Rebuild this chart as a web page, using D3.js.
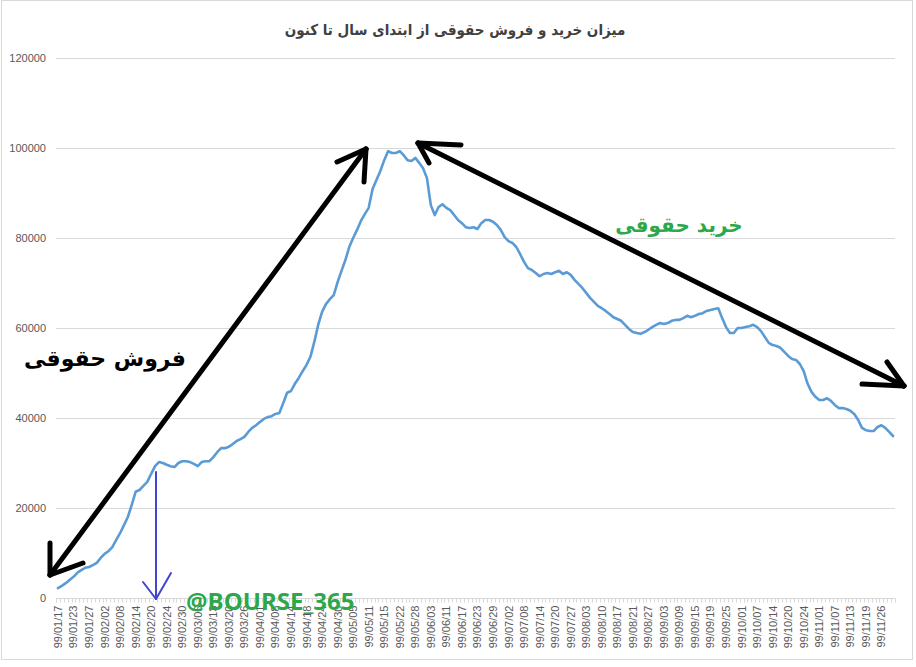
<!DOCTYPE html>
<html><head><meta charset="utf-8">
<script src="https://cdn.jsdelivr.net/npm/d3@7"></script>
<style>body{margin:0;background:#fff}svg{display:block}</style>
</head><body>
<script>
const title = "میزان خرید و فروش حقوقی از ابتدای سال تا کنون";
const tickLabels = ["99/01/17","99/01/23","99/01/27","99/02/02","99/02/08","99/02/14","99/02/20","99/02/24","99/02/30","99/03/06","99/03/13","99/03/20","99/03/26","99/04/01","99/04/08","99/04/14","99/04/18","99/04/24","99/04/30","99/05/05","99/05/11","99/05/15","99/05/22","99/05/28","99/06/03","99/06/11","99/06/17","99/06/23","99/06/29","99/07/02","99/07/08","99/07/14","99/07/20","99/07/27","99/08/03","99/08/10","99/08/17","99/08/21","99/08/27","99/09/03","99/09/09","99/09/15","99/09/19","99/09/25","99/10/01","99/10/07","99/10/14","99/10/20","99/10/24","99/11/01","99/11/07","99/11/13","99/11/19","99/11/26"];
const values = [2200,2700,3300,4000,4700,5600,6200,6700,6900,7300,
7800,8900,9800,10400,11300,12900,14400,16200,18000,20700,
23600,24000,24900,25800,27600,29300,30200,30000,29600,29300,
29100,30000,30400,30400,30200,29800,29300,30200,30400,30400,
31300,32400,33300,33300,33600,34200,34900,35300,35800,36900,
37800,38400,39100,39800,40200,40400,40900,41100,43300,45600,
46000,47600,48900,50400,51800,53600,56900,60700,63600,65300,
66400,67300,70200,72700,75100,78000,80000,81800,83800,85300,
86700,90900,92900,94900,97300,99300,98900,98900,99300,98400,
97300,97100,97800,96700,95500,93300,87300,85100,86900,87500,
86700,86200,85100,84000,83300,82400,82200,82400,82000,83300,
84000,84000,83600,82900,81800,80200,79300,78900,78000,76400,
74700,73300,72900,72200,71500,72000,72200,72000,72400,72700,
72000,72400,71800,70700,69800,68900,67800,66700,65800,64900,
64400,63800,63100,62400,62000,61600,60700,59800,59100,58900,
58700,59100,59600,60200,60700,61100,60900,61100,61600,61800,
61800,62200,62700,62400,62700,63100,63300,63800,64000,64200,
64400,62200,60200,58900,58900,60000,60000,60200,60400,60700,
60200,59300,58000,56700,56200,56000,55600,54700,53800,53100,
52900,52000,50400,47600,45800,44700,44000,44000,44400,43800,
42900,42200,42200,42000,41600,40900,39600,37800,37300,37100,
37100,38000,38400,37800,36900,36000];
const yTicks = [0,20000,40000,60000,80000,100000,120000];
const labelEvery = 4;
const sellLabel = "فروش حقوقی";
const buyLabel = "خرید حقوقی";
const watermark = "@BOURSE_365";

const W = 916, H = 667;
const svg = d3.select("body").append("svg").attr("width", W).attr("height", H);
svg.append("rect").attr("x",1.5).attr("y",0.5).attr("width",911).attr("height",659)
  .attr("fill","#fff").attr("stroke","#d9d9d9");

const m = {l:56, r:21, t:58, b:69};
const x = d3.scaleBand().domain(d3.range(values.length)).range([m.l, W - m.r]).padding(0);
const y = d3.scaleLinear().domain([0,120000]).range([H - m.b, m.t]);

// gridlines
svg.append("g").selectAll("line").data(yTicks).join("line")
  .attr("x1", m.l).attr("x2", W - m.r)
  .attr("y1", d => Math.round(y(d)) + 0.5).attr("y2", d => Math.round(y(d)) + 0.5)
  .attr("stroke", "#d9d9d9").attr("stroke-width", 1);

// y labels
svg.append("g").selectAll("text").data(yTicks).join("text")
  .attr("x", 46).attr("y", d => y(d) + 4).attr("text-anchor","end")
  .attr("font-family","Liberation Sans, Arial, sans-serif").attr("font-size",11)
  .attr("fill","#595959").text(d => d);

// x axis: category tick marks
const y0 = Math.round(y(0)) + 0.5;
const edges = d3.range(values.length + 1).map(i => i === values.length ? x.range()[1] : x(i));
svg.append("g").selectAll("line").data(edges).join("line")
  .attr("x1", d => Math.round(d) + 0.5).attr("x2", d => Math.round(d) + 0.5)
  .attr("y1", y0).attr("y2", y0 + 4).attr("stroke","#d9d9d9");

const labelIdx = d3.range(0, values.length, labelEvery).filter(i => i / labelEvery < tickLabels.length);
svg.append("g").selectAll("text").data(labelIdx).join("text")
  .attr("transform", i => `translate(${x(i) + x.bandwidth()/2 + 4},${y0 + 7}) rotate(-90)`)
  .attr("text-anchor","end")
  .attr("font-family","Liberation Sans, Arial, sans-serif").attr("font-size",11)
  .attr("fill","#595959").text(i => tickLabels[i / labelEvery]);

// line
const line = d3.line().x((d,i) => x(i) + x.bandwidth()/2).y(d => y(d)).curve(d3.curveLinear);
svg.append("path").datum(values).attr("d", line).attr("fill","none")
  .attr("stroke","#5B9BD5").attr("stroke-width",2.6).attr("stroke-linejoin","round").attr("stroke-linecap","round");

// title
svg.append("text").attr("x", 455).attr("y", 35).attr("text-anchor","middle")
  .attr("font-family","DejaVu Sans Condensed, DejaVu Sans, sans-serif").attr("font-weight","bold").attr("font-size",15)
  .attr("fill","#404040").attr("direction","rtl").text(title);

// annotations (hand-drawn arrows)
const ann = svg.append("g").attr("fill","none").attr("stroke-linecap","round").attr("stroke-linejoin","round");
const black = [[[50,575],[366,149]],[[50,575],[50,543]],[[50,575],[83,563]],[[366,149],[337,162]],[[366,149],[364,182]],
  [[418,143],[904,386]],[[418,143],[461,145]],[[418,143],[429,163]],[[904,386],[887,362]],[[904,386],[862,384]]];
black.forEach(s => ann.append("path").attr("d", d3.line()(s)).attr("stroke","#000").attr("stroke-width",5));
const blue = [[[156,472],[156,599]],[[156,599],[143,582]],[[156,599],[171,573]]];
blue.forEach(s => ann.append("path").attr("d", d3.line()(s)).attr("stroke","#3f48cc").attr("stroke-width",2));

svg.append("text").attr("x", 105).attr("y", 366).attr("text-anchor","middle").attr("direction","rtl")
  .attr("font-family","DejaVu Sans, sans-serif").attr("font-weight","bold").attr("font-size",22)
  .attr("fill","#000").text(sellLabel);
svg.append("text").attr("x", 679).attr("y", 232).attr("text-anchor","middle").attr("direction","rtl")
  .attr("font-family","DejaVu Sans, sans-serif").attr("font-weight","bold").attr("font-size",20)
  .attr("fill","#2ca84a").text(buyLabel);
svg.append("text").attr("x", 186).attr("y", 610)
  .attr("font-family","Open Sans, Liberation Sans, sans-serif").attr("font-weight","bold").attr("font-size",24)
  .attr("fill","#2ca84a").text(watermark);
</script>
</body></html>
